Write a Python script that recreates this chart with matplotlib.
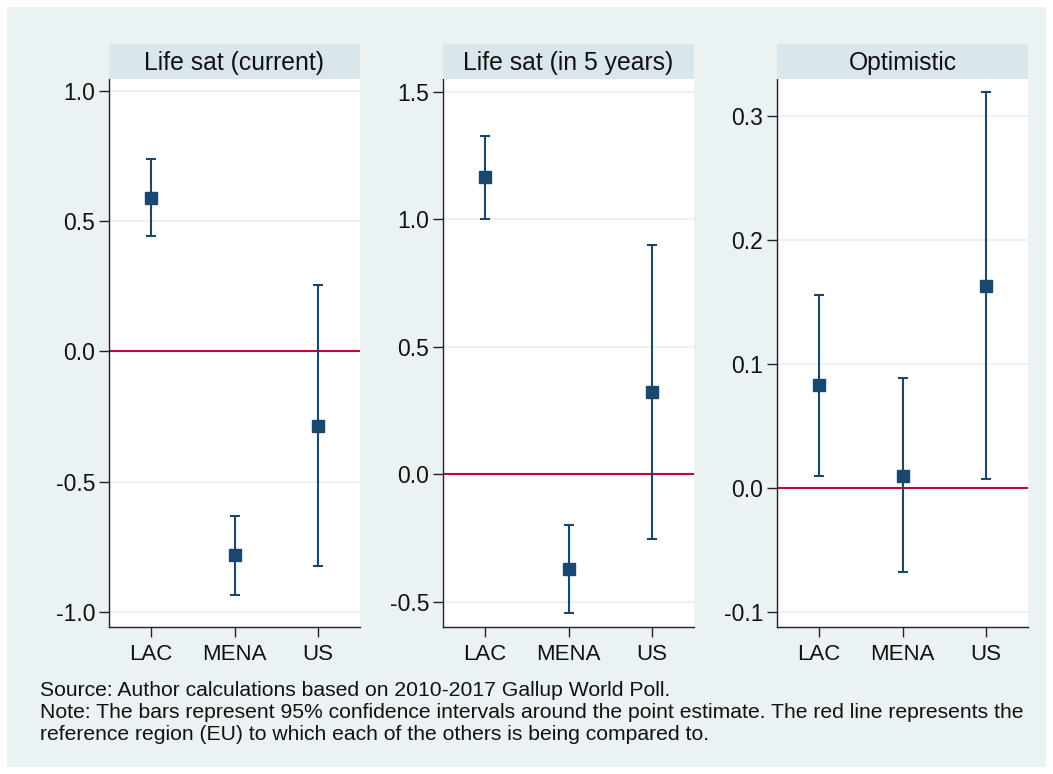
import matplotlib
matplotlib.use("Agg")
import matplotlib.pyplot as plt
from matplotlib.patches import Rectangle

regions = ["LAC", "MENA", "US"]
panel_titles = ["Life sat (current)", "Life sat (in 5 years)", "Optimistic"]

# point estimates and 95% CI bounds, one list per panel
current_est = [0.591, -0.783, -0.285]
current_lo = [0.444, -0.935, -0.825]
current_hi = [0.739, -0.631, 0.256]

future_est = [1.167, -0.373, 0.322]
future_lo = [1.003, -0.546, -0.254]
future_hi = [1.327, -0.201, 0.899]

optim_est = [0.083, 0.010, 0.163]
optim_lo = [0.010, -0.068, 0.007]
optim_hi = [0.156, 0.089, 0.319]

current_ticks = [-1.0, -0.5, 0.0, 0.5, 1.0]
future_ticks = [-0.5, 0.0, 0.5, 1.0, 1.5]
optim_ticks = [-0.1, 0.0, 0.1, 0.2, 0.3]

footnote_lines = [
    "Source: Author calculations based on 2010-2017 Gallup World Poll.",
    "Note: The bars represent 95% confidence intervals around the point estimate. "
    "The red line represents the",
    "reference region (EU) to which each of the others is being compared to.",
]

BG = "#EAF2F3"
STRIP = "#D9E6EB"
NAVY = "#1A476F"
RED = "#C10534"

plt.rcParams["font.family"] = ["Liberation Sans", "DejaVu Sans"]

W, H = 1053, 774
fig = plt.figure(figsize=(W / 100, H / 100), dpi=100)
fig.patch.set_facecolor("white")
fig.add_artist(Rectangle((7 / W, 1 - 767 / H), 1039 / W, 760 / H,
                         transform=fig.transFigure, facecolor=BG,
                         edgecolor="none", zorder=0))

panels = [
    (109, current_est, current_lo, current_hi, current_ticks, (-1.058, 1.046)),
    (443, future_est, future_lo, future_hi, future_ticks, (-0.60, 1.551)),
    (777, optim_est, optim_lo, optim_hi, optim_ticks, (-0.112, 0.3297)),
]

ax_w = 251
top, bottom = 79, 627
strip_top = 44

for (left, est, lo, hi, ticks, ylim), title in zip(panels, panel_titles):
    ax = fig.add_axes([left / W, 1 - bottom / H, ax_w / W, (bottom - top) / H])
    ax.set_facecolor("white")
    x = list(range(1, len(regions) + 1))
    err = [[e - l for e, l in zip(est, lo)], [h - e for e, h in zip(est, hi)]]
    ax.axhline(0, color=RED, lw=1.5, zorder=2)
    ax.errorbar(x, est, yerr=err, fmt="s", color=NAVY, ecolor=NAVY,
                elinewidth=1.5, capsize=3.3, capthick=1.5, markersize=8.5,
                zorder=3)
    ax.set_xlim(0.5, 3.5)
    ax.set_ylim(*ylim)
    ax.set_xticks(x)
    ax.set_xticklabels(regions, fontsize=16)
    ax.set_yticks(ticks)
    ax.set_yticklabels(["%.1f" % t for t in ticks], fontsize=16.5)
    ax.yaxis.grid(True, color=BG, lw=1.5)
    ax.set_axisbelow(True)
    for side in ["top", "right"]:
        ax.spines[side].set_visible(False)
    for side in ["left", "bottom"]:
        ax.spines[side].set_color("#222222")
        ax.spines[side].set_linewidth(1.0)
    ax.tick_params(axis="both", length=7, width=1.0, color="#222222",
                   labelcolor="#111111")
    ax.tick_params(axis="y", pad=3)
    ax.tick_params(axis="x", pad=5)

    sax = fig.add_axes([left / W, 1 - top / H, ax_w / W, (top - strip_top) / H])
    sax.set_facecolor(STRIP)
    sax.set_xticks([])
    sax.set_yticks([])
    for s in sax.spines.values():
        s.set_visible(False)
    sax.text(0.5, 0.45, title, ha="center", va="center", fontsize=17.8,
             color="#111111", transform=sax.transAxes)

for line, ypix in zip(footnote_lines, [690, 713, 735]):
    fig.text(40 / W, 1 - ypix / H, line, fontsize=15.2,
             ha="left", va="center", color="#111111")

fig.savefig("out.png", dpi=100, facecolor=fig.get_facecolor())
